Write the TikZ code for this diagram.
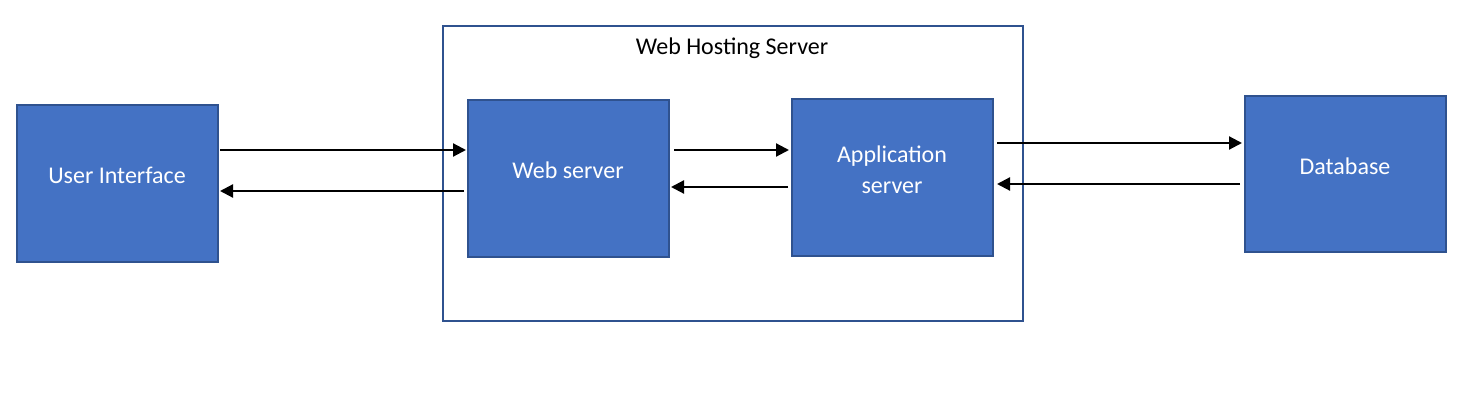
\documentclass[tikz,border=0pt]{standalone}
\usepackage{fontspec}
\setmainfont{Carlito}
\usetikzlibrary{arrows.meta}
\definecolor{boxfill}{HTML}{4472C4}
\definecolor{boxline}{HTML}{2F528F}
\begin{document}
\begin{tikzpicture}[x=1pt,y=-1pt,
  blk/.style={draw=boxline,line width=2pt,fill=boxfill,minimum width=201pt,minimum height=157pt,inner sep=0pt},
  lbl/.style={text=white,font=\fontsize{24}{31}\selectfont,align=center},
  arr/.style={draw=black,line width=2.2pt,-{Triangle[length=13pt,width=13pt]}},
  outer/.style={draw=boxline,line width=1.6pt,minimum width=580pt,minimum height=295pt,inner sep=0pt}]
\useasboundingbox (0,0) rectangle (1476,403);
\node[outer] (whs) at (733,173.5) {};
\node[font=\fontsize{24}{29}\selectfont] (whst) at (732,48) {Web Hosting Server};
\node[blk] (ui) at (117.5,183.5) {};
\node[lbl] (uit) at (117,175) {User Interface};
\node[blk] (ws) at (568.5,178.5) {};
\node[lbl] (wst) at (568,170) {Web server};
\node[blk] (as) at (892.5,177.5) {};
\node[lbl] (ast) at (892,169.5) {Application\\server};
\node[blk,minimum height=156pt] (db) at (1345.5,174) {};
\node[lbl] (dbt) at (1345,166) {Database};
\draw[arr,shorten <=1pt,shorten >=1pt] (ui.east |- 0,150) -- (ws.west |- 0,150);
\draw[arr,shorten <=3pt,shorten >=1pt] (ws.west |- 0,191) -- (ui.east |- 0,191);
\draw[arr,shorten <=4pt,shorten >=2pt] (ws.east |- 0,150) -- (as.west |- 0,150);
\draw[arr,shorten <=3pt,shorten >=1pt] (as.west |- 0,187) -- (ws.east |- 0,187);
\draw[arr,shorten <=3pt,shorten >=2pt] (as.east |- 0,143) -- (db.west |- 0,143);
\draw[arr,shorten <=4pt,shorten >=3pt] (db.west |- 0,184) -- (as.east |- 0,184);
\end{tikzpicture}
\end{document}
